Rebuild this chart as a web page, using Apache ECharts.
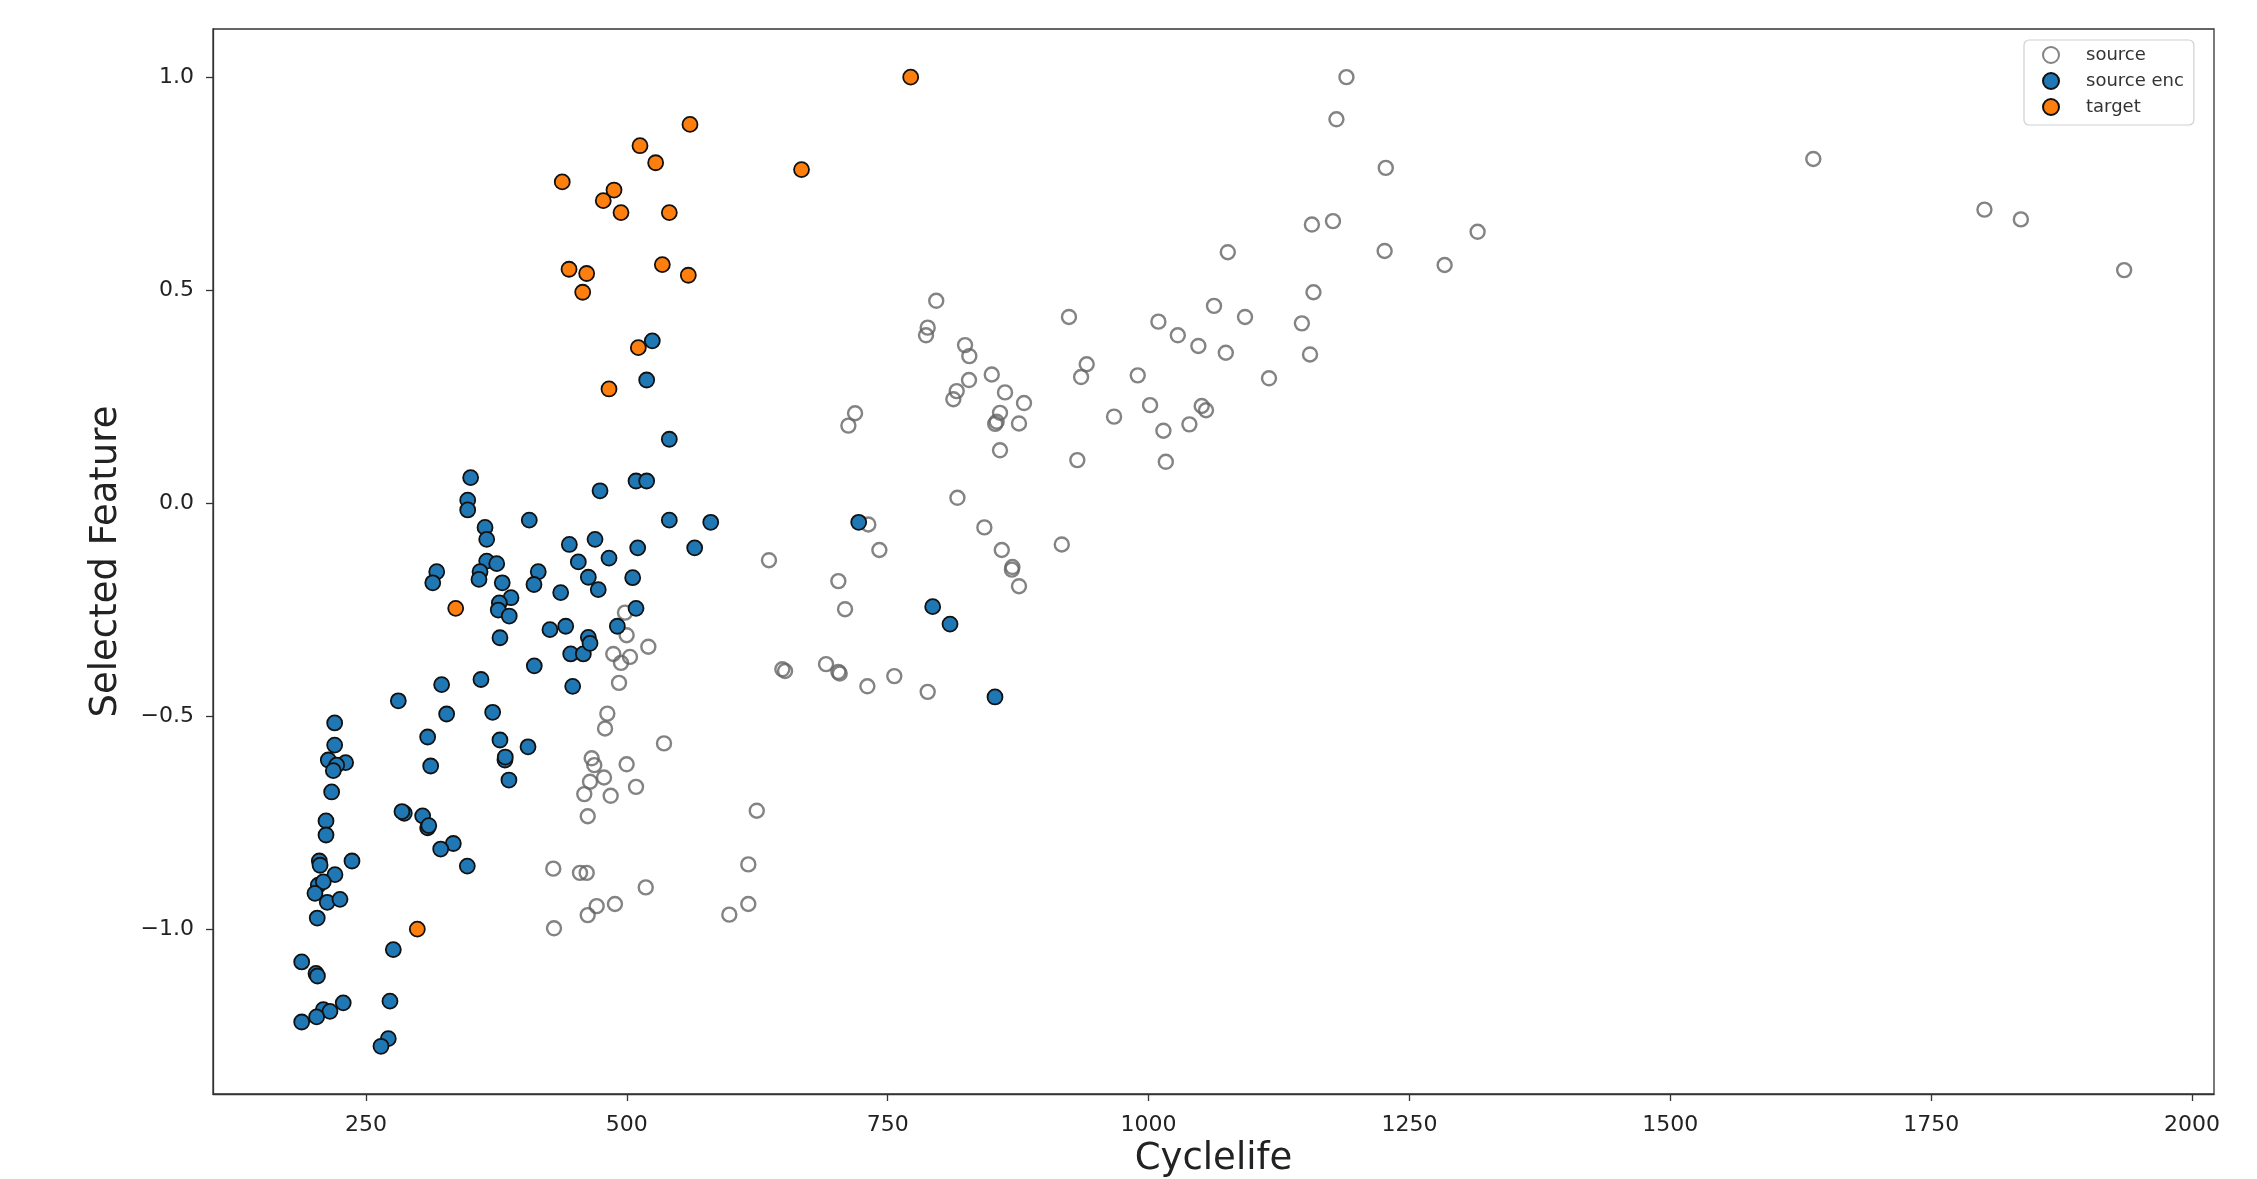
<!DOCTYPE html>
<html>
<head>
<meta charset="utf-8">
<script src="https://cdn.jsdelivr.net/npm/echarts@6/dist/echarts.min.js"></script>
<style>
html,body{margin:0;padding:0;background:#fff;}
#chart{width:2257px;height:1179px;}
</style>
</head>
<body>
<div id="chart"></div>
<script>
// ---- data (Cyclelife, Selected Feature) ----
const sourceData = [
[487.0,-0.354],[503.0,-0.361],[494.4,-0.375],[492.5,-0.422],[481.3,-0.494],[479.1,-0.529],[466.3,-0.599],[468.8,-0.615],[499.8,-0.613],[478.1,-0.644],[464.7,-0.654],[459.2,-0.683],[484.5,-0.687],[508.8,-0.666],[462.5,-0.735],[429.5,-0.858],[455.1,-0.868],[461.5,-0.868],[518.1,-0.902],[471.1,-0.946],[462.5,-0.967],[488.6,-0.941],[430.2,-0.998],
[718.7,0.211],[712.3,0.182],[731.4,-0.050],[742.0,-0.110],[636.2,-0.134],[702.7,-0.183],[709.1,-0.249],[498.2,-0.257],[499.8,-0.310],[520.6,-0.337],[649.0,-0.390],[651.6,-0.394],[690.9,-0.378],[702.7,-0.396],[704.0,-0.400],[730.5,-0.430],[756.3,-0.406],[535.6,-0.564],
[624.5,-0.722],[616.4,-0.848],[616.4,-0.941],[598.2,-0.966],
[796.5,0.475],[788.3,0.412],[786.7,0.394],[824.1,0.371],[828.2,0.345],[849.7,0.302],[827.9,0.289],[816.1,0.263],[812.9,0.244],[862.4,0.260],[880.6,0.235],[857.6,0.212],[854.4,0.191],[853.0,0.186],[875.8,0.187],[857.6,0.124],[923.7,0.437],[940.7,0.326],[935.3,0.296],[989.6,0.300],[1009.4,0.426],[1028.0,0.394],[1047.7,0.369],[1062.7,0.463],[1092.4,0.437],[1074.0,0.353],[1158.0,0.495],[1146.9,0.422],[1154.7,0.349],[1115.4,0.293],[966.9,0.203],[1001.4,0.230],[1014.2,0.170],[1039.1,0.185],[1050.9,0.228],[1055.0,0.218],[931.7,0.101],[1016.5,0.097],[1075.9,0.589],[816.8,0.0125],[842.6,-0.057],[859.3,-0.110],[869.5,-0.150],[869.0,-0.156],[875.8,-0.195],[916.8,-0.097],[788.3,-0.443],
[1189.6,1.0],[1180.0,0.901],[1227.3,0.787],[1637.0,0.808],[1156.5,0.654],[1176.7,0.662],[1226.2,0.592],[1315.3,0.637],[1283.7,0.559],[1801.0,0.689],[1835.9,0.666],[1934.9,0.547]
];
const sourceEncData = [
[411.3,-0.382],[446.2,-0.354],[458.3,-0.354],[448.1,-0.430],[281.0,-0.464],[322.5,-0.426],[360.2,-0.414],[327.3,-0.495],[371.4,-0.491],[220.0,-0.516],[309.1,-0.549],[378.4,-0.556],[405.3,-0.572],[220.0,-0.568],[213.9,-0.603],[230.5,-0.609],[221.9,-0.615],[218.7,-0.628],[383.2,-0.603],[383.5,-0.596],[312.0,-0.617],[387.0,-0.650],[217.1,-0.678],[211.7,-0.746],[211.7,-0.779],[286.7,-0.728],[284.5,-0.724],[304.3,-0.734],[309.1,-0.762],[310.2,-0.757],[333.7,-0.799],[321.6,-0.812],[347.1,-0.852],[205.3,-0.840],[206.0,-0.850],[236.6,-0.840],[220.3,-0.872],[204.3,-0.897],[209.1,-0.889],[201.1,-0.916],[212.9,-0.937],[225.1,-0.930],[203.3,-0.974],[276.2,-1.048],[188.4,-1.077],[202.1,-1.104],[203.5,-1.110],[228.2,-1.173],[209.1,-1.189],[215.5,-1.193],[202.7,-1.206],[188.4,-1.218],[273.0,-1.169],[271.4,-1.257],[264.4,-1.275],
[540.7,0.150],[350.3,0.060],[347.5,0.007],[347.5,-0.016],[508.8,0.052],[519.0,0.052],[474.3,0.029],[406.5,-0.040],[540.7,-0.040],[580.4,-0.045],[722.2,-0.045],[364.1,-0.057],[365.7,-0.085],[444.9,-0.097],[469.5,-0.085],[510.4,-0.105],[565.0,-0.105],[453.5,-0.138],[482.9,-0.129],[365.7,-0.136],[375.3,-0.142],[317.8,-0.161],[314.0,-0.187],[359.3,-0.161],[358.3,-0.179],[380.6,-0.187],[415.1,-0.161],[411.0,-0.191],[463.1,-0.174],[472.6,-0.203],[505.6,-0.175],[436.6,-0.210],[389.0,-0.222],[377.8,-0.234],[376.8,-0.251],[387.3,-0.265],[508.8,-0.247],[490.9,-0.289],[426.3,-0.297],[441.4,-0.289],[463.1,-0.315],[464.7,-0.329],[378.4,-0.316],
[524.4,0.381],[519.0,0.289],[793.1,-0.243],[809.7,-0.284],[852.8,-0.455]
];
const targetData = [
[772.0,1.0],[560.5,0.889],[512.6,0.839],[527.6,0.799],[667.4,0.783],[438.1,0.754],[487.7,0.735],[477.4,0.710],[494.4,0.682],[540.7,0.682],[444.6,0.549],[461.5,0.539],[457.7,0.495],[534.0,0.560],[558.9,0.535],[511.0,0.365],[482.9,0.268],[336.0,-0.247],[299.2,-1.0]
];
const seriesNames = ['source', 'source enc', 'target'];
const xTicks = [250, 500, 750, 1000, 1250, 1500, 1750, 2000];
const yTicks = [-1.0, -0.5, 0.0, 0.5, 1.0];

const FONT = 'DejaVu Sans';
const TXT = '#222';

const chart = echarts.init(document.getElementById('chart'), null, {renderer: 'canvas'});
chart.setOption({
  animation: false,
  backgroundColor: '#fff',
  textStyle: {fontFamily: FONT},
  grid: {left: 213, right: 43, top: 29, bottom: 85, show: true, borderColor: '#333', borderWidth: 1.3,
         backgroundColor: '#fff', containLabel: false, outerBoundsMode: 'none'},
  legend: {
    orient: 'vertical',
    left: 2024, top: 40,
    padding: [6, 10, 9, 18],
    itemWidth: 16, itemHeight: 16, itemGap: 8,
    backgroundColor: 'rgba(255,255,255,0.85)',
    borderColor: '#d0d0d0', borderWidth: 1.2, borderRadius: 5,
    textStyle: {fontFamily: FONT, fontSize: 18, color: '#333', padding: [0, 0, 0, 22]},
    data: seriesNames,
    selectedMode: false
  },
  xAxis: {
    type: 'value', min: 103.4, max: 2021,
    name: 'Cyclelife', nameLocation: 'middle', nameGap: 47,
    nameTextStyle: {fontFamily: FONT, fontSize: 37, color: TXT},
    axisLine: {show: true, onZero: false, lineStyle: {color: '#333', width: 1.3}},
    axisTick: {show: true, inside: false, length: 7, lineStyle: {color: '#333', width: 1.3}, customValues: xTicks},
    axisLabel: {fontFamily: FONT, fontSize: 22, color: TXT, margin: 20, customValues: xTicks, formatter: v => String(Math.round(v))},
    splitLine: {show: false}
  },
  yAxis: {
    type: 'value', min: -1.387, max: 1.113,
    name: 'Selected Feature', nameLocation: 'middle', nameGap: 88, nameRotate: 90,
    nameTextStyle: {fontFamily: FONT, fontSize: 37, color: TXT},
    axisLine: {show: true, onZero: false, lineStyle: {color: '#333', width: 1.3}},
    axisTick: {show: true, inside: false, length: 7, lineStyle: {color: '#333', width: 1.3}, customValues: yTicks},
    axisLabel: {fontFamily: FONT, fontSize: 22, color: TXT, margin: 19, customValues: yTicks,
      formatter: v => (v < 0 ? '\u2212' : '') + Math.abs(v).toFixed(1)},
    splitLine: {show: false}
  },
  series: [
    {
      name: seriesNames[0], type: 'scatter', data: sourceData, symbol: 'circle', symbolSize: 14,
      itemStyle: {color: 'rgba(255,255,255,0)', borderColor: 'rgba(100,100,100,0.8)', borderWidth: 2.4, opacity: 1},
      emphasis: {disabled: true}, z: 2
    },
    {
      name: seriesNames[1], type: 'scatter', data: sourceEncData, symbol: 'circle', symbolSize: 15,
      itemStyle: {color: '#1f77b4', borderColor: '#111', borderWidth: 1.8, opacity: 1},
      emphasis: {disabled: true}, z: 3
    },
    {
      name: seriesNames[2], type: 'scatter', data: targetData, symbol: 'circle', symbolSize: 15,
      itemStyle: {color: '#ff7f0e', borderColor: '#111', borderWidth: 1.8, opacity: 1},
      emphasis: {disabled: true}, z: 4
    }
  ]
});
</script>
</body>
</html>
